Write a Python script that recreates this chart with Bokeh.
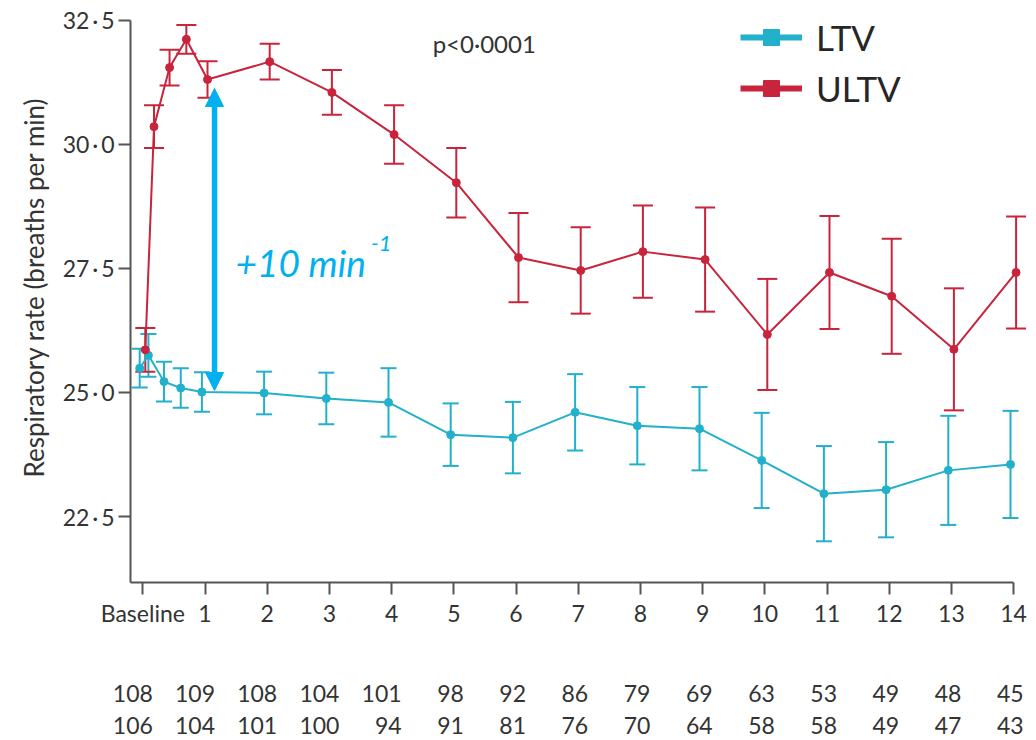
import math
from bokeh.plotting import figure
from bokeh.models import (Range1d, FixedTicker, Whisker, TeeHead, ColumnDataSource,
                          Label, Arrow, NormalHead, Legend, LegendItem)
from bokeh.core.properties import value
from bokeh.embed import file_html
from bokeh.resources import INLINE

# Assessment times, days from randomisation
times = [0, 0.14, 0.39, 0.66, 1, 2, 3, 4, 5, 6, 7, 8, 9, 10, 11, 12, 13, 14]

# Respiratory rate, mean and half-width of error bar (breaths per min)
ltv_mean = [25.49, 25.75, 25.22, 25.09, 25.01, 24.99, 24.88, 24.80, 24.15,
            24.09, 24.60, 24.33, 24.27, 23.63, 22.96, 23.04, 23.43, 23.55]
ltv_err = [0.39, 0.43, 0.40, 0.40, 0.40, 0.43, 0.52, 0.69, 0.63,
           0.72, 0.77, 0.78, 0.84, 0.96, 0.96, 0.96, 1.10, 1.08]
ultv_mean = [25.86, 30.36, 31.55, 32.12, 31.31, 31.67, 31.05, 30.20, 29.23,
             27.72, 27.46, 27.84, 27.68, 26.17, 27.42, 26.94, 25.87, 27.42]
ultv_err = [0.44, 0.43, 0.36, 0.29, 0.37, 0.36, 0.45, 0.59, 0.70,
            0.90, 0.87, 0.93, 1.05, 1.12, 1.14, 1.16, 1.23, 1.13]

day_ticks = list(range(15))
day_labels = ["Baseline"] + [str(d) for d in range(1, 15)]
rate_ticks = [22.5, 25.0, 27.5, 30.0, 32.5]
rate_labels = ["22\u2009·\u20095", "25\u2009·\u20090", "27\u2009·\u20095",
               "30\u2009·\u20090", "32\u2009·\u20095"]

# Patients at risk per day
at_risk_ltv = [108, 109, 108, 104, 101, 98, 92, 86, 79, 69, 63, 53, 49, 48, 45]
at_risk_ultv = [106, 104, 101, 100, 94, 91, 81, 76, 70, 64, 58, 58, 49, 47, 43]

# ---- styling -------------------------------------------------------------
LTV_C = "#22b0cb"
ULTV_C = "#c8243c"
NOTE_C = "#00b0f0"
AXIS_C = "#555555"
TEXT_C = "#333333"
FONT = "Lato"

# the frame fills the whole canvas; axes sit at fixed data locations
X0, X1 = -2.288, 14.368
Y0, Y1 = 17.984, 32.903
AXIS_X = -0.198
AXIS_Y = 21.16
ROW1_Y, ROW2_Y = 18.93, 18.29

p = figure(width=1036, height=740, x_range=Range1d(X0, X1), y_range=Range1d(Y0, Y1),
           output_backend="svg", toolbar_location=None,
           min_border_left=0, min_border_right=0, min_border_top=0, min_border_bottom=0)
p.grid.visible = False
p.outline_line_color = None

# axes
p.xaxis.fixed_location = AXIS_Y
p.xaxis.bounds = (AXIS_X, 14)
p.xaxis.ticker = FixedTicker(ticks=day_ticks)
p.xaxis.major_label_overrides = dict(zip(day_ticks, day_labels))
p.xaxis.major_label_standoff = 4
p.yaxis.fixed_location = AXIS_X
p.yaxis.bounds = (AXIS_Y, 32.5)
p.yaxis.ticker = FixedTicker(ticks=rate_ticks)
p.yaxis.major_label_overrides = dict(zip(rate_ticks, rate_labels))
p.yaxis.major_label_standoff = 4
for ax in p.axis:
    ax.axis_line_color = AXIS_C
    ax.axis_line_width = 2
    ax.major_tick_line_color = AXIS_C
    ax.major_tick_line_width = 2
    ax.major_tick_in = 0
    ax.major_tick_out = 12
    ax.minor_tick_line_color = None
    ax.major_label_text_font = FONT
    ax.major_label_text_font_size = "23px"
    ax.major_label_text_color = TEXT_C

p.add_layout(Label(x=-1.757, y=27.12, text="Respiratory rate (breaths per min)",
                   angle=math.pi / 2, text_align="center", text_baseline="middle",
                   text_font=FONT, text_font_size="26px", text_color=TEXT_C))

# series
def draw_series(mean, err, shift, color, cap):
    xs = [t + shift for t in times]
    src = ColumnDataSource(dict(x=xs, y=mean,
                                lo=[m - e for m, e in zip(mean, err)],
                                hi=[m + e for m, e in zip(mean, err)]))
    p.add_layout(Whisker(base="x", lower="lo", upper="hi", source=src, dimension="height",
                         line_color=color, line_width=2,
                         upper_head=TeeHead(size=cap, line_color=color, line_width=2),
                         lower_head=TeeHead(size=cap, line_color=color, line_width=2)))
    p.line("x", "y", source=src, line_color=color, line_width=2)
    p.scatter("x", "y", source=src, size=8, color=color)

draw_series(ltv_mean, ltv_err, -0.05, LTV_C, 16)
draw_series(ultv_mean, ultv_err, 0.04, ULTV_C, 20)

# legend swatches (drawn off-range; only their legend glyphs show)
leg_items = []
for name, color in (("LTV", LTV_C), ("ULTV", ULTV_C)):
    ln = p.line([-100, -99], [0, 0], line_color=color, line_width=6)
    mk = p.scatter([-100], [0], marker="square", size=12, color=color)
    leg_items.append(LegendItem(label=name, renderers=[ln, mk]))
legend = Legend(items=leg_items, location=(740, 631), orientation="vertical",
                glyph_width=62, glyph_height=40, label_height=40, label_standoff=14,
                spacing=9, padding=0, margin=0, border_line_color=None,
                background_fill_alpha=0, label_text_font=FONT,
                label_text_font_size="35px", label_text_color="#262626")
p.add_layout(legend)

# annotations
p.add_layout(Label(x=4.66, y=32.04, text="p<0·0001", text_font=FONT,
                   text_font_size="24px", text_baseline="middle", text_color=TEXT_C))
p.add_layout(Arrow(x_start=1.153, y_start=25.04, x_end=1.153, y_end=31.13,
                   line_color=NOTE_C, line_width=5.5,
                   start=NormalHead(size=18, fill_color=NOTE_C, line_color=NOTE_C),
                   end=NormalHead(size=18, fill_color=NOTE_C, line_color=NOTE_C)))
p.add_layout(Label(x=1.49, y=27.62, text="+10 min", text_font=FONT,
                   text_font_style="italic", text_font_size="37px",
                   text_color=NOTE_C, text_baseline="alphabetic"))
p.add_layout(Label(x=3.67, y=28.0, text="-1", text_font=FONT,
                   text_font_style="italic", text_font_size="22px",
                   text_color=NOTE_C, text_baseline="alphabetic"))

# numbers at risk
risk_src = ColumnDataSource(dict(
    x=day_ticks + day_ticks,
    y=[ROW1_Y] * len(day_ticks) + [ROW2_Y] * len(day_ticks),
    n=[str(v) for v in at_risk_ltv + at_risk_ultv]))
p.text("x", "y", text="n", source=risk_src, text_font=value(FONT),
       text_font_size="23px", text_align="right", text_baseline="middle",
       x_offset=10, text_color=TEXT_C)

open("out.html", "w").write(file_html(p, INLINE))
